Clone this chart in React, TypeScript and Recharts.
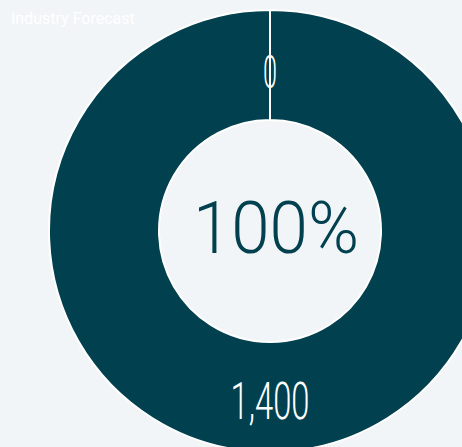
import React from "react";
import { PieChart, Pie, Cell } from "recharts";

const categories = ["Remaining", "Industry Forecast"];
const values = [0, 1400];
const sliceLabels = ["0", "1,400"];
const centerText = "100%";
const title = "Industry Forecast";

const BG = "#f1f5f7";
const RING = "#00404f";

const data = categories.map((name, i) => ({ name, value: values[i], label: sliceLabels[i] }));

if (typeof document !== "undefined") {
  document.body.style.margin = "0";
  document.body.style.background = BG;
}

const RAD = Math.PI / 180;

const renderSliceLabel = (props: any) => {
  const { cx, cy, midAngle, innerRadius, outerRadius, index } = props;
  const r = (innerRadius + outerRadius) / 2;
  const x = cx + r * Math.cos(-midAngle * RAD);
  const y = cy + r * Math.sin(-midAngle * RAD);
  const isZero = index === 0;
  const fontSize = isZero ? 46 : 51;
  const len = isZero ? 14 : 79;
  return (
    <g>
      <text
        x={x}
        y={y + (isZero ? 7 : 4)}
        fill="#ffffff"
        textAnchor="middle"
        dominantBaseline="central"
        fontFamily="Roboto"
        fontWeight={300}
        fontSize={fontSize}
        textLength={len}
        lengthAdjust="spacingAndGlyphs"
      >
        {data[index].label}
      </text>
      {!isZero && (
        <text
          x={cx + 6}
          y={cy - 3}
          fill={RING}
          textAnchor="middle"
          dominantBaseline="central"
          fontFamily="Roboto"
          fontWeight={300}
          fontSize={72}
          textLength={166}
          lengthAdjust="spacingAndGlyphs"
        >
          {centerText}
        </text>
      )}
    </g>
  );
};

export default function App() {
  return (
    <div style={{ position: "relative", width: 462, height: 447, background: BG, overflow: "hidden" }}>
      <PieChart
        width={462}
        height={447}
        margin={{ top: 0, right: 0, bottom: 0, left: 0 }}
        style={{ position: "absolute", left: 0, top: 0 }}
      >
        <Pie
          data={data}
          dataKey="value"
          nameKey="name"
          cx={270}
          cy={231}
          innerRadius={111}
          outerRadius={221}
          startAngle={90}
          endAngle={-270}
          stroke="#ffffff"
          strokeWidth={2}
          label={renderSliceLabel}
          labelLine={false}
          isAnimationActive={false}
        >
          {data.map((d) => (
            <Cell key={d.name} fill={RING} />
          ))}
        </Pie>
      </PieChart>
      <div
        style={{
          position: "absolute",
          left: 11,
          top: 8,
          color: "#ffffff",
          fontFamily: "Roboto",
          fontSize: 16,
          lineHeight: "22px",
          whiteSpace: "nowrap",
        }}
      >
        {title}
      </div>
    </div>
  );
}
